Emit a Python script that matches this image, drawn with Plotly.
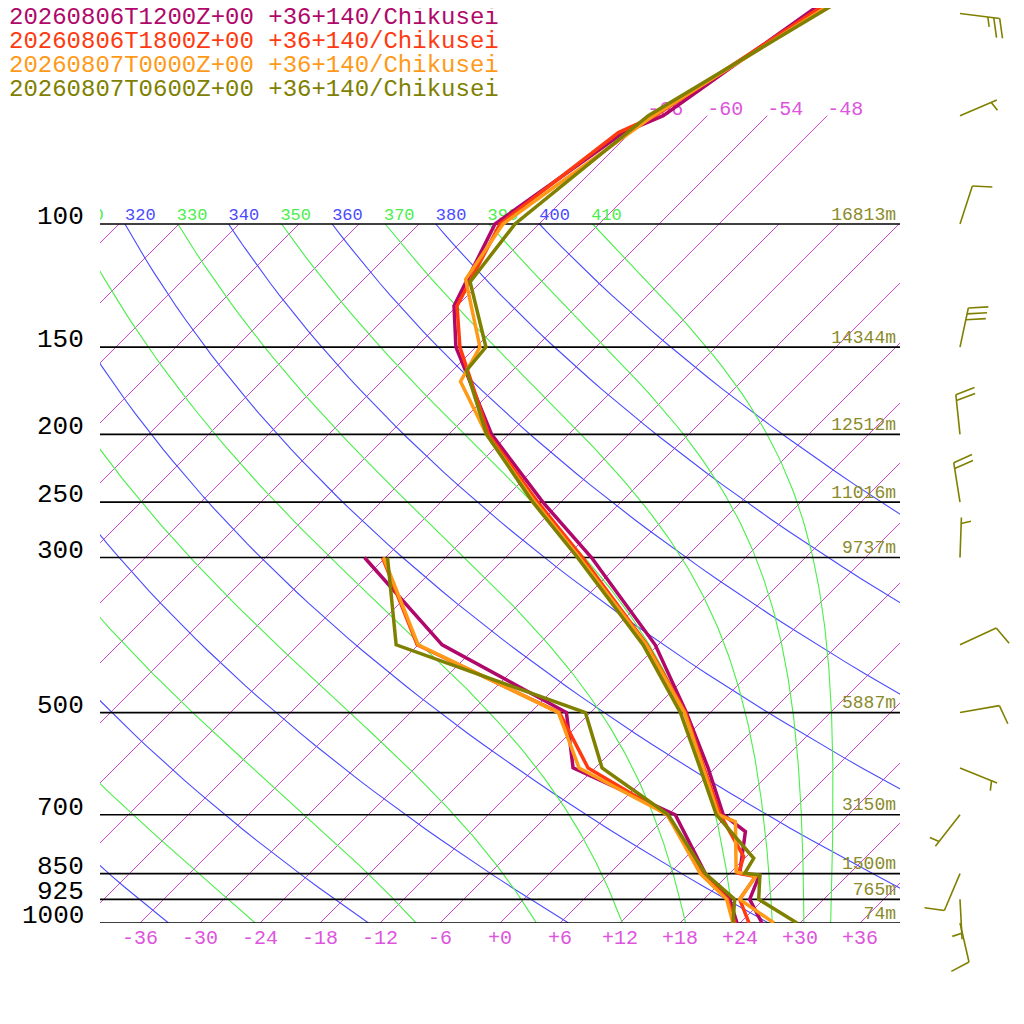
"""
skewt.py - Skew-T log-p chart of four model soundings (Chikusei, +36+140).
"""
import numpy as np
import plotly.graph_objects as go

# ---------------------------------------------------------------- data
RUNS = ["20260806T1200Z+00", "20260806T1800Z+00", "20260807T0000Z+00", "20260807T0600Z+00"]
SITE = "+36+140/Chikusei"
COLORS = ["#b0086a", "#ff3a10", "#ff9a18", "#808000"]

# temperature vertices (hPa, degC)
P_1200 = [1000, 925, 856, 849, 740, 700, 600, 500, 400, 300, 250, 200, 150, 131, 100, 74, 70, 50, 30]
T_1200 = [26.2, 22.6, 21.2, 19.0, 15.4, 11.5, 5.3, -2.4, -12.3, -27.4, -37.8, -49.7, -62.0, -66.3, -70.4, -66.7, -64.4, -60.2, -53.9]
P_1800 = [1000, 925, 858, 849, 803, 700, 600, 500, 400, 300, 250, 200, 150, 131, 100, 74, 70, 50, 30]
T_1800 = [24.9, 21.6, 20.9, 18.9, 17.7, 11.2, 4.9, -2.5, -13.1, -28.3, -38.3, -50.0, -61.6, -66.0, -69.9, -67.2, -65.2, -59.8, -51.7]
P_0000 = [1000, 925, 857, 845, 716, 700, 600, 500, 400, 300, 250, 200, 168, 150, 120, 100, 70, 50, 30]
T_0000 = [27.4, 21.6, 20.9, 18.5, 13.4, 11.0, 4.8, -2.6, -13.2, -28.6, -38.6, -50.2, -58.1, -59.6, -67.8, -69.6, -65.4, -59.3, -50.1]
P_0600 = [1000, 925, 854, 849, 808, 700, 600, 500, 400, 300, 250, 200, 162, 150, 121, 100, 70, 50, 30]
T_0600 = [29.7, 23.5, 21.2, 19.5, 18.9, 10.8, 4.5, -3.0, -13.5, -28.8, -38.8, -50.2, -58.6, -59.0, -67.1, -68.4, -65.9, -59.1, -48.7]

# dew points (humidity only up to 300 hPa)
P_TD = [1000, 925, 850, 700, 600, 500, 400, 300]
TD_1200 = [23.7, 20.6, 15.6, 6.7, -8.2, -14.4, -33.6, -50.1]
TD_1800 = [23.5, 20.4, 15.4, 5.9, -6.7, -15.1, -36.1, -48.3]
TD_0000 = [23.3, 20.3, 15.1, 5.9, -7.6, -15.2, -36.0, -48.2]
TD_0600 = [23.3, 21.1, 15.6, 6.0, -5.3, -12.5, -38.2, -47.8]

# winds of the latest run (deg, kt)
WIND_P = [1000, 925, 850, 700, 600, 500, 400, 300, 250, 200, 150, 100, 70, 50]
WIND_DIR = [167, 177, 203, 218, 112, 80, 65, 2, 351, 354, 12, 18, 67, 97]
WIND_SPD = [10, 5, 10, 5, 5, 10, 10, 5, 20, 20, 30, 10, 5, 25]

# standard levels and their heights
LEVELS = [1000, 925, 850, 700, 500, 300, 250, 200, 150, 100]
HEIGHTS = ["74m", "765m", "1500m", "3150m", "5887m", "9737m", "11016m", "12512m", "14344m", "16813m"]

# reference lines
TEMP_TICKS = [-36, -30, -24, -18, -12, -6, 0, 6, 12, 18, 24, 30, 36]
ISOTHERMS = list(range(-108, 37, 6))
ISO_LABELS = [-66, -60, -54, -48]
THETA_DRY = [240, 260, 280, 300, 320, 340, 360, 380, 400]
THETA_MOIST = [250, 270, 290, 310, 330, 350, 370, 390, 410]

# ---------------------------------------------------------------- geometry
W = H = 1024
PAGE = 8                                   # body margin of the html page
PLOT_L, PLOT_R, PLOT_B = 100, 900, 923     # wanted pixel box on screen
PX_PER_DECADE = 699
SKEW = PX_PER_DECADE / 10                  # degC shift per decade of pressure
Y_TOP = 3 - (PLOT_B - PAGE) / PX_PER_DECADE
FONT = "Liberation Mono"
MAGENTA = "#d048d0"
BLUE = "#4a4aff"
GREEN = "#4aee4a"
OLIVE = "#8a8a2a"


def skew_x(t, p):
    return np.asarray(t, float) + SKEW * (3 - np.log10(np.asarray(p, float)))


def p_to_px(p):
    return PLOT_B - PX_PER_DECADE * (3 - np.log10(p))


def moist_adiabat(theta, pressures):
    """pseudo-adiabat that has potential temperature theta at 100 hPa"""
    Rd, cp, Lv, eps = 287.04, 1005.7, 2.501e6, 0.622

    def dTdp(t, p):
        es = 6.112 * np.exp(17.67 * (t - 273.15) / (t - 29.65))
        rs = eps * es / (p - es)
        return (Rd * t + Lv * rs) / p / (cp + Lv * Lv * rs * eps / (Rd * t * t))

    t = theta * (100 / 1000) ** (Rd / cp)
    out = [t]
    for p0, p1 in zip(pressures[:-1], pressures[1:]):
        h = p1 - p0
        k1 = dTdp(t, p0)
        k2 = dTdp(t + h * k1 / 2, p0 + h / 2)
        k3 = dTdp(t + h * k2 / 2, p0 + h / 2)
        k4 = dTdp(t + h * k3, p1)
        t = t + h * (k1 + 2 * k2 + 2 * k3 + k4) / 6
        out.append(t)
    return np.array(out) - 273.15


def line_trace(xs, ys, color, width):
    xs = [None if v is None else float(v) for v in xs]
    ys = [None if v is None else float(v) for v in ys]
    return go.Scatter(x=xs, y=ys, mode="lines", line=dict(color=color, width=width),
                      hoverinfo="skip", showlegend=False)


def text_trace(xs, ys, texts, pos, size, color):
    return go.Scatter(x=[float(v) for v in xs], y=[float(v) for v in ys], mode="text",
                      text=texts, textposition=pos,
                      textfont=dict(family=FONT, size=size, color=color),
                      hoverinfo="skip", showlegend=False)


fig = go.Figure()

# isotherms, 1000 -> 100 hPa, and short stubs above 100 hPa for the labelled ones
xs, ys = [], []
for t in ISOTHERMS:
    xs += list(skew_x([t, t], [1000, 100])) + [None]
    ys += [1000, 100, None]
for t in ISO_LABELS:
    xs += list(skew_x([t, t], [100, 70])) + [None]
    ys += [100, 70, None]
fig.add_trace(line_trace(xs, ys, MAGENTA, 1))

# dry adiabats
p_grid = np.geomspace(1000, 100, 60)
xs, ys = [], []
for th in THETA_DRY:
    t = th * (p_grid / 1000) ** 0.2857 - 273.15
    xs += list(skew_x(t, p_grid)) + [None]
    ys += list(p_grid) + [None]
fig.add_trace(line_trace(xs, ys, BLUE, 1.1))

# moist adiabats
p_up = np.linspace(100, 1000, 181)
xs, ys = [], []
for th in THETA_MOIST:
    t = moist_adiabat(th, p_up)
    xs += list(skew_x(t, p_up)) + [None]
    ys += list(p_up) + [None]
fig.add_trace(line_trace(xs, ys, GREEN, 1.1))

# standard pressure lines
xs, ys = [], []
for p in LEVELS:
    xs += [-40, 40, None]
    ys += [p, p, None]
fig.add_trace(line_trace(xs, ys, "#000000", 1.6))

# labels that sit under the soundings
for thetas, col in ((THETA_DRY, BLUE), (THETA_MOIST, GREEN)):
    x100 = [th * 0.1 ** 0.2857 - 273.15 + SKEW for th in thetas]
    fig.add_trace(text_trace(x100, [100] * len(thetas), [str(th) for th in thetas],
                             "top right", 17, col))
iso_p = 70 / 10 ** (5.6 / PX_PER_DECADE)   # label centre a little above 70 hPa
fig.add_trace(text_trace(skew_x(ISO_LABELS, [70] * len(ISO_LABELS)), [iso_p] * len(ISO_LABELS),
                         [str(t) for t in ISO_LABELS], "middle right", 20, "#dd55dd"))
fig.add_trace(text_trace([39.6] * len(LEVELS), LEVELS, HEIGHTS, "top left", 18, OLIVE))

# soundings
temps = [(P_1200, T_1200), (P_1800, T_1800), (P_0000, T_0000), (P_0600, T_0600)]
dews = [TD_1200, TD_1800, TD_0000, TD_0600]
for (pp, tt), td, col in zip(temps, dews, COLORS):
    fig.add_trace(line_trace(skew_x(tt, pp), pp, col, 3.5))
    fig.add_trace(line_trace(skew_x(td, P_TD), P_TD, col, 3.5))

# wind barbs (screen-pixel space on an overlay axis at the right)
BARB_X, STAFF, FULL, HALF, STEP = 960, 40, 20, 10, 6
ang = np.radians(75)
xs, ys = [], []
for p, d, s in zip(WIND_P, WIND_DIR, WIND_SPD):
    bx, by = BARB_X, p_to_px(p)
    ux, uy = np.sin(np.radians(d)), -np.cos(np.radians(d))
    tx, ty = bx + STAFF * ux, by + STAFF * uy
    xs += [bx, tx, None]
    ys += [by, ty, None]
    vx, vy = ux * np.cos(ang) - uy * np.sin(ang), ux * np.sin(ang) + uy * np.cos(ang)
    n_full, half = s // 10, s % 10 >= 5
    pos = 0
    for _ in range(n_full):
        sx, sy = tx - pos * ux, ty - pos * uy
        xs += [sx, sx + FULL * vx, None]
        ys += [sy, sy + FULL * vy, None]
        pos += STEP
    if half:
        pos = max(pos, STEP)
        sx, sy = tx - pos * ux, ty - pos * uy
        xs += [sx, sx + HALF * vx, None]
        ys += [sy, sy + HALF * vy, None]
barbs = line_trace(xs, ys, "#808000", 1.6)
barbs.update(xaxis="x2", yaxis="y2")
fig.add_trace(barbs)

# pressure labels on the left
annotations = []
for p in LEVELS:
    annotations.append(dict(x=(86 - PAGE) / W, xref="paper", xanchor="right", y=float(np.log10(p)),
                            yref="y", yanchor="middle", yshift=7, text=str(p), showarrow=False,
                            font=dict(family=FONT, size=26, color="#000000")))

# run legend, top left
for i, (run, col) in enumerate(zip(RUNS, COLORS)):
    annotations.append(dict(x=(7 - PAGE) / W, xref="paper", xanchor="left",
                            y=1 - (17 + 24 * i - PAGE) / H, yref="paper", yanchor="middle",
                            text=f"{run} {SITE}", showarrow=False,
                            font=dict(family=FONT, size=24, color=col)))

fig.update_layout(
    width=W, height=H, margin=dict(l=0, r=0, t=0, b=0),
    paper_bgcolor="white", plot_bgcolor="rgba(0,0,0,0)", showlegend=False,
    annotations=annotations,
    xaxis=dict(domain=[(PLOT_L - PAGE) / W, (PLOT_R - PAGE) / W], range=[-40, 40],
               showgrid=False, zeroline=False, showline=False, ticks="", tickvals=TEMP_TICKS,
               ticktext=[f"{t:+d}" if t >= 0 else str(t) for t in TEMP_TICKS],
               tickfont=dict(family=FONT, size=20, color="#dd55dd"), anchor="y"),
    yaxis=dict(domain=[1 - (PLOT_B - PAGE) / H, 1], type="log", range=[3, Y_TOP],
               showgrid=False, zeroline=False, showline=False, showticklabels=False,
               ticks="", anchor="x"),
    xaxis2=dict(domain=[(PLOT_R - PAGE) / W, 1], range=[PLOT_R, W + PAGE], visible=False,
                anchor="y2"),
    yaxis2=dict(domain=[0, 1], range=[H + PAGE, PAGE], visible=False, anchor="x2"),
)

fig.write_html("out.html")
